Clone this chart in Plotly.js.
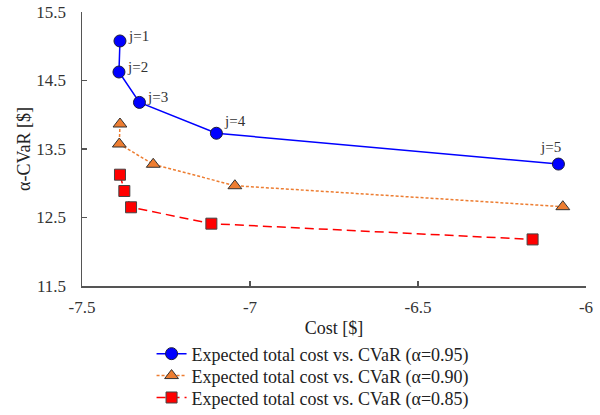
<!DOCTYPE html>
<html>
<head>
<meta charset="utf-8">
<script src="https://cdn.plot.ly/plotly-3.0.1.min.js"></script>
<style>html,body{margin:0;padding:0;background:#fff;}#chart{width:600px;height:415px;}</style>
</head>
<body>
<div id="chart"></div>
<script>
// Data
var cost095 = [-7.387, -7.39, -7.329, -7.10, -6.082];
var cvar095 = [15.077, 14.624, 14.18, 13.73, 13.28];
var cost090 = [-7.387, -7.389, -7.288, -7.045, -6.069];
var cvar090 = [13.865, 13.573, 13.277, 12.964, 12.658];
var cost085 = [-7.387, -7.374, -7.354, -7.115, -6.159];
var cvar085 = [13.125, 12.887, 12.649, 12.41, 12.18];
var pointLabels = ["j=1", "j=2", "j=3", "j=4", "j=5"];
var seriesNames = [
  "Expected total cost vs. CVaR (\u03b1=0.95)",
  "Expected total cost vs. CVaR (\u03b1=0.90)",
  "Expected total cost vs. CVaR (\u03b1=0.85)"
];
var xTickVals = [-7.5, -7, -6.5, -6];
var xTickText = ["-7.5", "-7", "-6.5", "-6"];
var yTickVals = [11.5, 12.5, 13.5, 14.5, 15.5];
var yTickText = ["11.5", "12.5", "13.5", "14.5", "15.5"];

var FONT = "'Liberation Serif', 'Times New Roman', serif";

var traces = [
  {x: cost095, y: cvar095, name: seriesNames[0], mode: "lines+markers", type: "scatter", legend: "legend",
   line: {color: "#0000FF", width: 1.5},
   marker: {symbol: "circle", size: 12, color: "#0000FF", line: {color: "#1a1a3a", width: 1}}},
  {x: cost090, y: cvar090, name: seriesNames[1], mode: "lines+markers", type: "scatter", legend: "legend2",
   line: {color: "#ED7D31", width: 1.5, dash: "3px,2px"},
   marker: {symbol: "triangle-up", size: 12, color: "#ED7D31", line: {color: "#333333", width: 1}}},
  {x: cost085, y: cvar085, name: seriesNames[2], mode: "lines+markers", type: "scatter", legend: "legend3",
   line: {color: "#FF0000", width: 1.5, dash: "9px,5px"},
   marker: {symbol: "square", size: 11, color: "#FF0000", line: {color: "#444444", width: 1}}}
];

var annotations = pointLabels.map(function (t, i) {
  var last = (i === pointLabels.length - 1);
  return {
    x: cost095[i], y: cvar095[i], xref: "x", yref: "y", text: t, showarrow: false,
    xanchor: last ? "center" : "left", yanchor: "middle",
    xshift: last ? -8 : 6, yshift: last ? 17 : (i === 3 ? 12 : 5),
    font: {family: FONT, size: 15, color: "#333333"}
  };
});

function legendAt(yPaper) {
  return {x: 0.138, xanchor: "left", y: yPaper, yanchor: "middle", orientation: "v",
          font: {family: FONT, size: 18, color: "#222222"}, bgcolor: "rgba(0,0,0,0)",
          itemwidth: 30};
}

var layout = {
  width: 600, height: 415,
  margin: {l: 82, r: 14, t: 12, b: 129, autoexpand: false},
  paper_bgcolor: "#ffffff", plot_bgcolor: "#ffffff",
  font: {family: FONT, size: 17, color: "#333333"},
  showlegend: true,
  legend: legendAt(-0.248),
  legend2: legendAt(-0.328),
  legend3: legendAt(-0.408),
  xaxis: {
    range: [-7.5, -6], tickvals: xTickVals, ticktext: xTickText,
    showgrid: false, zeroline: false, showline: true, linecolor: "#555555", linewidth: 1.5,
    ticks: "inside", ticklen: 5, tickcolor: "#555555", tickwidth: 1.5, ticklabelstandoff: 5,
    tickfont: {family: FONT, size: 17, color: "#333333"},
    title: {text: "Cost [$]", font: {family: FONT, size: 18, color: "#222222"}, standoff: 5}
  },
  yaxis: {
    range: [11.5, 15.5], tickvals: yTickVals, ticktext: yTickText,
    showgrid: false, zeroline: false, showline: true, linecolor: "#555555", linewidth: 1.5,
    ticks: "inside", ticklen: 5, tickcolor: "#555555", tickwidth: 1.5, ticklabelstandoff: 11,
    tickfont: {family: FONT, size: 17, color: "#333333"},
    title: {text: "\u03b1-CVaR [$]", font: {family: FONT, size: 18, color: "#222222"}, standoff: 1}
  },
  annotations: annotations
};

Plotly.newPlot("chart", traces, layout, {displayModeBar: false, staticPlot: true});
</script>
</body>
</html>
